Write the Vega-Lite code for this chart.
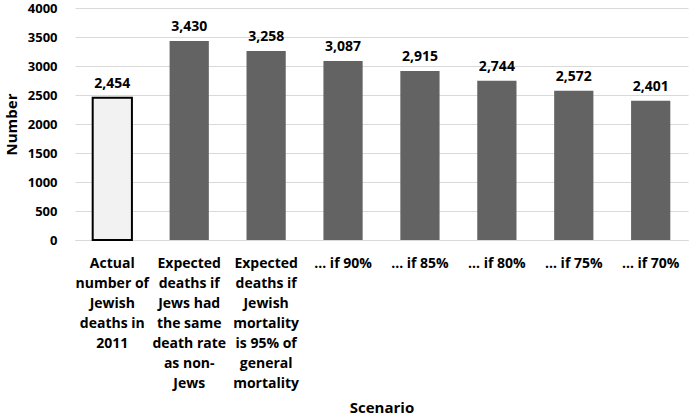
{
  "$schema": "https://vega.github.io/schema/vega-lite/v6.json",
  "width": 690,
  "height": 418,
  "autosize": {"type": "fit", "contains": "padding"},
  "padding": {"left": 4, "top": 2, "right": 2, "bottom": 3},
  "background": "#ffffff",
  "config": {
    "font": "Open Sans",
    "view": {"stroke": null}
  },
  "data": {
    "values": [
      {"scenario": "Actual|number of|Jewish|deaths in|2011", "deaths": 2454, "kind": "actual"},
      {"scenario": "Expected|deaths if|Jews had|the same|death rate|as non-|Jews", "deaths": 3430, "kind": "expected"},
      {"scenario": "Expected|deaths if|Jewish|mortality|is 95% of|general|mortality", "deaths": 3258, "kind": "expected"},
      {"scenario": "… if 90%", "deaths": 3087, "kind": "expected"},
      {"scenario": "… if 85%", "deaths": 2915, "kind": "expected"},
      {"scenario": "… if 80%", "deaths": 2744, "kind": "expected"},
      {"scenario": "… if 75%", "deaths": 2572, "kind": "expected"},
      {"scenario": "… if 70%", "deaths": 2401, "kind": "expected"}
    ]
  },
  "encoding": {
    "x": {
      "field": "scenario",
      "type": "nominal",
      "sort": null,
      "scale": {"paddingInner": 0.49, "paddingOuter": 0.23},
      "axis": {
        "title": "Scenario",
        "titleFontSize": 15,
        "titleFontWeight": "bold",
        "titlePadding": 10,
        "labelExpr": "split(datum.value, '|')",
        "labelAngle": 0,
        "labelFontSize": 14,
        "labelFontWeight": "bold",
        "labelLineHeight": 20,
        "labelColor": "#000000",
        "labelPadding": 16,
        "ticks": false,
        "domainColor": "#d9d9d9",
        "labelLimit": 0
      }
    },
    "y": {
      "field": "deaths",
      "type": "quantitative",
      "scale": {"domain": [0, 4000]},
      "axis": {
        "title": "Number",
        "titleFontSize": 15,
        "titleFontWeight": "bold",
        "titlePadding": 8,
        "format": "d",
        "values": [0, 500, 1000, 1500, 2000, 2500, 3000, 3500, 4000],
        "labelFontSize": 13,
        "labelFontWeight": "bold",
        "labelColor": "#000000",
        "labelPadding": 18,
        "ticks": false,
        "domain": false,
        "gridColor": "#d9d9d9"
      }
    }
  },
  "layer": [
    {
      "mark": {"type": "bar"},
      "encoding": {
        "fill": {
          "field": "kind",
          "type": "nominal",
          "scale": {"domain": ["actual", "expected"], "range": ["#f2f2f2", "#636363"]},
          "legend": null
        },
        "stroke": {
          "field": "kind",
          "type": "nominal",
          "scale": {"domain": ["actual", "expected"], "range": ["#000000", "#636363"]},
          "legend": null
        },
        "strokeWidth": {
          "field": "kind",
          "type": "nominal",
          "scale": {"domain": ["actual", "expected"], "range": [2, 0]},
          "legend": null
        }
      }
    },
    {
      "mark": {"type": "text", "dy": -14, "fontSize": 14, "fontWeight": "bold", "color": "#000000"},
      "encoding": {
        "text": {"field": "deaths", "type": "quantitative", "format": ","}
      }
    }
  ]
}
